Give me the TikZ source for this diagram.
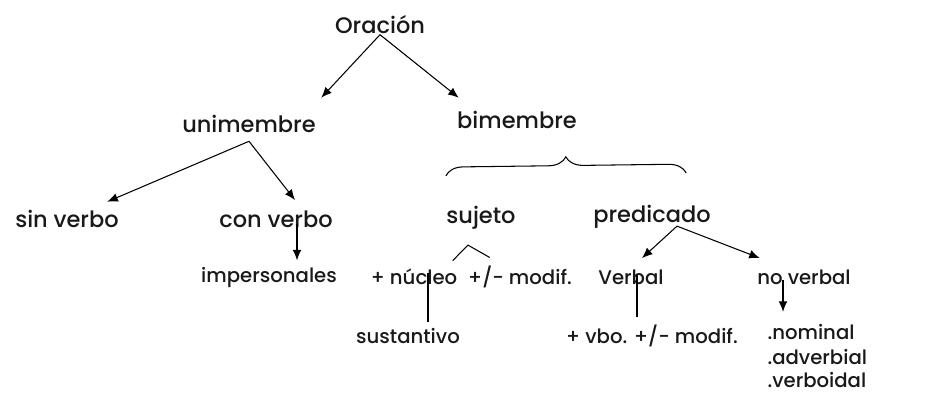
\documentclass[tikz,border=0pt]{standalone}
\usepackage{fontspec}
\setmainfont{Poppins Medium}
\usetikzlibrary{decorations.pathreplacing, arrows.meta}
\begin{document}
\begin{tikzpicture}[x=0.02cm, y=-0.02cm, semithick, >={Latex[length=6pt, width=5pt]},
    lbl/.style={inner sep=0pt, text=black!90, font=\fontsize{12.8}{15}\selectfont},
    sm/.style={lbl, font=\fontsize{11.2}{13}\selectfont}]
    \useasboundingbox (0,0) rectangle (930,396);
    % first and second level
    \node[lbl] (oracion) at (380,25) {Oración};
    \node[lbl] (uni) at (249,124) {unimembre};
    \node[lbl] (bi) at (517,120) {bimembre};
    \draw[->] (oracion.south) -- ([shift={(5,-17)}]uni.north east);
    \draw[->] (oracion.south) -- ([shift={(2,-13)}]bi.north west);
    % unimembre
    \node[lbl] (sinv) at (67,219) {sin verbo};
    \node[lbl] (conv) at (276,219) {con verbo};
    \node[sm] (imp) at (269,277) {impersonales};
    \draw[->] ([shift={(0,8)}]uni.south) -- ([shift={(-12,-8)}]sinv.north east);
    \draw[->] ([shift={(0,8)}]uni.south) -- ([shift={(19,-10)}]conv.north);
    \draw[->] ([shift={(21,-4)}]conv.south) -- ([shift={(28,-6)}]imp.north);
    % bimembre
    \node[lbl] (suj) at (481,218) {sujeto};
    \node[lbl] (pred) at (652,217) {predicado};
    \draw[decorate, decoration={brace, amplitude=10pt}]
        ([shift={(0,-30)}]suj.north west) -- ([shift={(-25,-32)}]pred.north east);
    % sujeto
    \node[sm] (nuc) at (414,277) {+ núcleo};
    \node[sm] (mod) at (520,277) {+/- modif.};
    \node[sm] (sust) at (408,336) {sustantivo};
    \coordinate (peak) at ([shift={(-13,15)}]suj.south);
    \draw ([shift={(-5,-8)}]nuc.north east) -- (peak) -- ([shift={(22,-8)}]mod.north west);
    \draw ([shift={(14,-12)}]nuc.south) -- ([shift={(20,-6)}]sust.north);
    % predicado
    \node[sm] (verb) at (631,277) {Verbal};
    \node[sm] (nov) at (804,277) {no verbal};
    \node[sm] (vbo) at (652,336) {+ vbo. +/- modif.};
    \draw[->] ([shift={(25,-3)}]pred.south) -- ([shift={(11,-11)}]verb.north);
    \draw[->] ([shift={(25,-3)}]pred.south) -- ([shift={(3,-11)}]nov.north west);
    \draw ([shift={(6,-10)}]verb.south) -- ([shift={(-15,-7)}]vbo.north);
    \node[sm, anchor=west] (nom) at (767,332) {.nominal};
    \node[sm, anchor=west] (adv) at (767,357) {.adverbial};
    \node[sm, anchor=west] (vbd) at (767,380) {.verboidal};
    \draw[->] ([shift={(-21,-5)}]nov.south) -- ([shift={(16,-12)}]nom.north west);
\end{tikzpicture}
\end{document}
